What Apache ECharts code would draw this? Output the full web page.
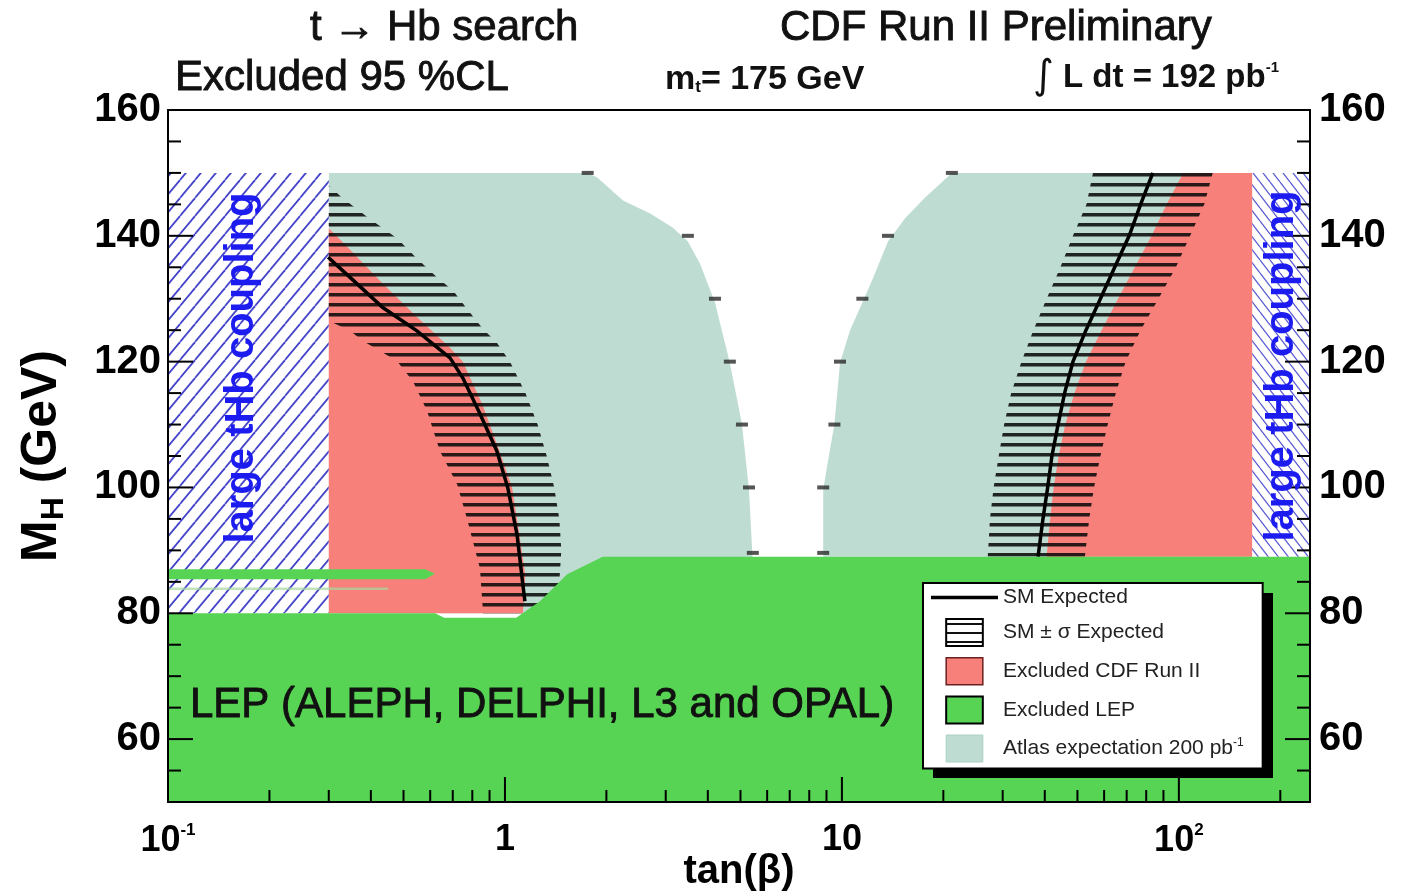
<!DOCTYPE html>
<html><head><meta charset="utf-8">
<script src="https://cdn.jsdelivr.net/npm/echarts@6.0.0/dist/echarts.min.js"></script>
<style>html,body{margin:0;padding:0;background:#fff}#c{width:1405px;height:894px}</style>
</head><body><div id="c"></div>
<script>
// ---------------- DATA (tanβ, M_H [GeV]) ----------------
const xMin = 0.1, xMax = 245, yMin = 50, yMax = 160;
const xTickLabels = {'-1': '{b|10}{s|-1}', '0': '{b|1}', '1': '{b|10}', '2': '{b|10}{s|2}'};
const yTickLabels = [60, 80, 100, 120, 140, 160];
const xMajorTickValues = [0.1, 1, 10, 100];
const xMinorTickValues = [0.2,0.3,0.4,0.5,0.6,0.7,0.8,0.9,2,3,4,5,6,7,8,9,20,30,40,50,60,70,80,90,200];
const yMajorTickValues = [60, 80, 100, 120, 140];
const yMinorTickValues = [55,65,70,75,85,90,95,105,110,115,125,130,135,145,150,155];

// "large tHb coupling" hatched regions
const couplingLeft  = [[0.1,80],[0.1,150],[0.3,150],[0.3,80]];
const couplingRight = [[165,89],[165,150],[245,150],[245,89]];

// Atlas expectation 200 pb^-1
const atlasLeft = [[0.3,80],[0.3,150],[1.76,150],[1.875,149.3],[2.24,145.6],[2.69,143.6],[3.15,141.3],[3.49,139.1],[3.79,135.6],[4.2,129.4],[4.65,119.8],[5.05,110.1],[5.3,99.6],[5.44,88],[1.3,80]];
const atlasRight = [[165,89],[8.8,89],[8.8,99.6],[9.02,103.1],[9.5,110.1],[9.87,119.8],[10.56,124.9],[11.5,129.4],[12.4,133.4],[13.7,139.1],[15.4,142.8],[17.6,146],[21.2,150],[165,150]];
const atlasMarkersLeft  = [[1.76,150],[3.49,140],[4.2,130],[4.65,120],[5.05,110],[5.3,100],[5.44,89.6]];
const atlasMarkersRight = [[21.2,150],[13.7,140],[11.5,130],[9.87,120],[9.5,110],[8.8,100],[8.8,89.6]];

// Excluded CDF Run II
const cdfLeft = [[0.3,80],[0.3,141.2],[0.347,137.8],[0.434,132.4],[0.548,127.1],[0.687,122.2],[0.75,120],[0.86,113],[0.96,106],[1.05,100],[1.1,93],[1.15,86],[1.13,80]];
const cdfRight = [[165,89],[40.5,89],[41.5,95],[42.5,100],[44,105],[46,110],[49,115],[53,120],[59,125],[66,130],[74,135],[83,140],[92,145],[103,150],[165,150]];

// SM ± sigma expected band
const bandLeft = [[0.3,148],[0.328,146.1],[0.392,142.9],[0.478,139.6],[0.548,136.4],[0.628,133.4],[0.701,131.3],[0.771,128.4],[0.861,125.2],[0.946,123],[1.035,120],[1.15,115],[1.25,110],[1.33,105],[1.4,100],[1.45,95],[1.47,90],[1.45,85],[1.4,80],[0.861,80],[0.843,87.1],[0.771,95.1],[0.721,100.5],[0.641,105.8],[0.587,112.2],[0.533,116.9],[0.478,120.1],[0.426,121.7],[0.379,123.3],[0.347,124.9],[0.3,126.5]];
const bandRight = [[55.6,150],[53.2,145],[48.5,140],[44.5,135],[40.5,130],[37.0,125],[34.1,120],[31.8,115],[30.3,110],[29.2,105],[28.2,100],[27.5,95],[27.1,89],[52.6,89],[54.2,95],[56,100],[58.5,105],[61.5,110],[65,115],[69.5,120],[77,125],[87,130],[98,135],[108,140],[119,145],[126,150]];

// SM expected
const smLeft = [[0.2986,136.6],[0.347,133.4],[0.434,128.6],[0.548,124.9],[0.687,120.6],[0.75,117.4],[0.843,111.7],[0.946,105.8],[1.02,99.9],[1.086,92.5],[1.13,84.6],[1.146,81.9]];
const smRight = [[38.2,89],[39.5,95],[40.8,100],[42,105],[43.8,110],[45.8,115],[48.5,120],[53,125],[58.5,130],[64.5,135],[71.2,140],[77,145],[83.7,150]];

// Excluded LEP
const lepMain = [[0.1,50],[0.1,80],[0.62,80],[0.66,79.3],[1.08,79.3],[1.27,81.9],[1.53,86.2],[1.95,89],[245,89],[245,50]];
const lepStrip = [[0.1,85.4],[0.1,87.0],[0.58,87.0],[0.62,86.3],[0.58,85.4]];
const lepFaint = [[0.1,83.9],[0.45,83.9]];

// ---------------- STYLE ----------------
const C_RED = '#f8807a', C_GREEN = '#57d453', C_TEAL = '#bedcd1', C_BLUE = '#1c1cf0';
const SANS = "'Liberation Sans',Arial,Helvetica,sans-serif";

function makePattern(w, h, draw) {
  const c = document.createElement('canvas'); c.width = w; c.height = h;
  const g = c.getContext('2d'); draw(g, w, h);
  return {image: c, repeat: 'repeat'};
}
const hatchLeft = makePattern(15, 18, (g, w, h) => {
  g.fillStyle = '#fff'; g.fillRect(0, 0, w, h);
  g.strokeStyle = '#4545c8'; g.lineWidth = 1.8;
  for (const o of [-w, 0, w]) { g.beginPath(); g.moveTo(o, h); g.lineTo(o + w, 0); g.stroke(); }
});
const hatchRight = makePattern(10, 13, (g, w, h) => {
  g.fillStyle = '#fff'; g.fillRect(0, 0, w, h);
  g.strokeStyle = '#5a5ad2'; g.lineWidth = 1.3;
  for (const o of [-w, 0, w]) { g.beginPath(); g.moveTo(o, 0); g.lineTo(o + w, h); g.stroke(); }
});
const bandPattern = makePattern(8, 10, (g, w, h) => {
  g.fillStyle = 'rgba(10,10,10,0.88)'; g.fillRect(0, 3, w, 3.5);
});
const bandLegendPattern = makePattern(8, 9, (g, w, h) => {
  g.fillStyle = '#fff'; g.fillRect(0, 0, w, h);
  g.fillStyle = '#111'; g.fillRect(0, 4, w, 2);
});

function poly(name, pts, style, z) {
  return {
    type: 'custom', name, z, silent: true, clip: true,
    xAxisIndex: 0, yAxisIndex: 0,
    data: pts, encode: {x: 0, y: 1},
    renderItem(params, api) {
      if (params.dataIndex !== 0) return null;
      return {type: 'polygon', shape: {points: pts.map(p => api.coord(p))}, style: Object.assign({}, style)};
    }
  };
}
function polyline(name, pts, style, z) {
  return {
    type: 'custom', name, z, silent: true, clip: true,
    xAxisIndex: 0, yAxisIndex: 0,
    data: pts, encode: {x: 0, y: 1},
    renderItem(params, api) {
      if (params.dataIndex !== 0) return null;
      return {type: 'polyline', shape: {points: pts.map(p => api.coord(p))}, style: Object.assign({fill: null}, style)};
    }
  };
}

function tickSeries(values, axis, len) {
  const data = values.map(v => axis === 'x' ? [v, yMin] : [xMin, v]);
  return {
    type: 'custom', name: 'ticks', z: 9, silent: true, xAxisIndex: 0, yAxisIndex: 0,
    data, encode: {x: 0, y: 1},
    renderItem(params, api) {
      const s = {stroke: '#000', lineWidth: 2};
      if (axis === 'x') {
        const p = api.coord([api.value(0), yMin]);
        return {type: 'line', shape: {x1: p[0], y1: p[1], x2: p[0], y2: p[1] - len}, style: s};
      }
      const v = api.value(1);
      const a = api.coord([xMin, v]), b = api.coord([xMax, v]);
      return {type: 'group', children: [
        {type: 'line', shape: {x1: a[0], y1: a[1], x2: a[0] + len, y2: a[1]}, style: s},
        {type: 'line', shape: {x1: b[0], y1: b[1], x2: b[0] - len, y2: b[1]}, style: s}
      ]};
    }
  };
}

const chart = echarts.init(document.getElementById('c'), null, {renderer: 'canvas'});
const yLabelStyle = {color: '#000', fontWeight: 'bold', fontSize: 40, fontFamily: SANS};
const titleStroke = {stroke: '#111', lineWidth: 0.9};
const option = {
  animation: false,
  backgroundColor: '#fff',
  grid: {left: 168, top: 110, width: 1142, height: 692, show: true, backgroundColor: '#fff', borderWidth: 0,
         containLabel: false, outerBoundsMode: 'none'},
  xAxis: [{
    type: 'log', logBase: 10, min: xMin, max: xMax, position: 'bottom', z: 10,
    axisLine: {lineStyle: {color: '#000', width: 2}}, axisTick: {show: false}, splitLine: {show: false},
    axisLabel: {
      margin: 20, color: '#000',
      formatter: v => { const e = Math.log10(v), r = Math.round(e); return Math.abs(e - r) < 1e-6 && xTickLabels[r] ? xTickLabels[r] : ''; },
      rich: {b: {fontSize: 36, fontWeight: 'bold', fontFamily: SANS, color: '#000'},
             s: {fontSize: 17, fontWeight: 'bold', fontFamily: SANS, color: '#000', padding: [0, 0, 22, 0]}}
    },
    name: 'tan(β)', nameLocation: 'middle', nameGap: 50, nameMoveOverlap: false,
    nameTextStyle: {color: '#000', fontSize: 40, fontWeight: 'bold', fontFamily: SANS}
  }, {
    type: 'log', logBase: 10, min: xMin, max: xMax, position: 'top', z: 10,
    axisLine: {lineStyle: {color: '#000', width: 2}}, axisTick: {show: false}, splitLine: {show: false}, axisLabel: {show: false}
  }],
  yAxis: [{
    type: 'value', min: yMin, max: yMax, interval: 10, position: 'left', z: 10,
    axisLine: {show: true, lineStyle: {color: '#000', width: 2}}, axisTick: {show: false}, splitLine: {show: false},
    axisLabel: Object.assign({margin: 7, formatter: v => yTickLabels.includes(v) ? String(v) : ''}, yLabelStyle),
    name: 'M{s|H} (GeV)', nameLocation: 'middle', nameRotate: 90, nameGap: 98,
    nameTextStyle: {color: '#000', fontSize: 50, fontWeight: 'bold', fontFamily: SANS,
      rich: {s: {fontSize: 32, fontWeight: 'bold', fontFamily: SANS, color: '#000', padding: [24, 0, 0, 0]}}}
  }, {
    type: 'value', min: yMin, max: yMax, interval: 10, position: 'right', z: 10,
    axisLine: {show: true, lineStyle: {color: '#000', width: 2}}, axisTick: {show: false}, splitLine: {show: false},
    axisLabel: Object.assign({margin: 9, formatter: v => yTickLabels.includes(v) ? String(v) : ''}, yLabelStyle)
  }],
  legend: {
    orient: 'vertical', left: 923, top: 583, z: 40, selectedMode: false,
    backgroundColor: '#fff', borderColor: '#000', borderWidth: 2,
    padding: [4, 19, 6, 8], itemGap: 10, itemWidth: 67, itemHeight: 27, symbolKeepAspect: true,
    textStyle: {fontSize: 21, color: '#222', fontFamily: SANS,
      rich: {u: {fontSize: 12, color: '#222', padding: [0, 0, 12, 0]}}},
    formatter: n => n === 'Atlas expectation 200 pb⁻¹' ? 'Atlas expectation 200 pb{u|-1}' : n,
    data: [
      {name: 'SM Expected', icon: 'path://M0,0H67V3.5H0Z', itemStyle: {color: '#000', borderWidth: 0}},
      {name: 'SM ± σ Expected', icon: 'path://M0,0H38V28H0Z', itemStyle: {color: bandLegendPattern, borderColor: '#000', borderWidth: 2}},
      {name: 'Excluded CDF Run II', icon: 'path://M0,0H38V28H0Z', itemStyle: {color: C_RED, borderColor: '#6a2020', borderWidth: 1.5}},
      {name: 'Excluded LEP', icon: 'path://M0,0H38V28H0Z', itemStyle: {color: C_GREEN, borderColor: '#000', borderWidth: 2}},
      {name: 'Atlas expectation 200 pb⁻¹', icon: 'path://M0,0H38V28H0Z', itemStyle: {color: C_TEAL, borderColor: '#a9cfc6', borderWidth: 1}}
    ]
  },
  graphic: [
    {type: 'rect', z: 39, shape: {x: 933, y: 593, width: 340, height: 185}, style: {fill: '#000'}},
    {type: 'text', x: 310, y: 28, z: 50, style: Object.assign({text: 't → Hb search', font: '42px ' + SANS, fill: '#111', align: 'left', verticalAlign: 'middle'}, titleStroke)},
    {type: 'text', x: 780, y: 28, z: 50, style: Object.assign({text: 'CDF Run II Preliminary', font: '42px ' + SANS, fill: '#111', align: 'left', verticalAlign: 'middle'}, titleStroke)},
    {type: 'text', x: 175, y: 78, z: 50, style: Object.assign({text: 'Excluded 95 %CL', font: '42px ' + SANS, fill: '#111', align: 'left', verticalAlign: 'middle'}, titleStroke)},
    {type: 'text', x: 665, y: 80, z: 50, style: {text: '{n|m}{s|t}{n|= 175 GeV}', fill: '#111', align: 'left', verticalAlign: 'middle',
      rich: {n: {fontSize: 34, fontWeight: 'bold', fontFamily: SANS, fill: '#111'}, s: {fontSize: 17, fontWeight: 'bold', fontFamily: SANS, fill: '#111', padding: [15, 0, 0, 0]}}}},
    {type: 'text', x: 1033, y: 78, z: 50, style: {text: '{i|∫}{n| L dt = 192 pb}{u|-1}', fill: '#111', align: 'left', verticalAlign: 'middle',
      rich: {i: {fontSize: 40, fontFamily: "'DejaVu Sans',sans-serif", fill: '#111'}, n: {fontSize: 33, fontWeight: 'bold', fontFamily: SANS, fill: '#111'}, u: {fontSize: 15, fontWeight: 'bold', fontFamily: SANS, fill: '#111', padding: [0, 0, 20, 0]}}}},
    {type: 'text', x: 190, y: 705, z: 50, style: Object.assign({text: 'LEP (ALEPH, DELPHI, L3 and OPAL)', font: '42px ' + SANS, fill: '#111', align: 'left', verticalAlign: 'middle'}, titleStroke)},
    {type: 'text', x: 242, y: 368, rotation: Math.PI / 2, z: 50, style: {text: 'large tHb coupling', font: 'bold 40px ' + SANS, fill: C_BLUE, align: 'center', verticalAlign: 'middle'}},
    {type: 'text', x: 1282, y: 366, rotation: Math.PI / 2, z: 50, style: {text: 'large tHb coupling', font: 'bold 40px ' + SANS, fill: C_BLUE, align: 'center', verticalAlign: 'middle'}}
  ],
  series: [
    poly('Atlas expectation 200 pb⁻¹', atlasLeft, {fill: C_TEAL}, 2),
    poly('Atlas expectation 200 pb⁻¹', atlasRight, {fill: C_TEAL}, 2),
    poly('large tHb coupling', couplingLeft, {fill: hatchLeft}, 2),
    poly('large tHb coupling', couplingRight, {fill: hatchRight}, 2),
    poly('Excluded CDF Run II', cdfLeft, {fill: C_RED}, 3),
    poly('Excluded CDF Run II', cdfRight, {fill: C_RED}, 3),
    poly('SM ± σ Expected', bandLeft, {fill: bandPattern}, 4),
    poly('SM ± σ Expected', bandRight, {fill: bandPattern}, 4),
    polyline('SM Expected', smLeft, {stroke: '#000', lineWidth: 3.5}, 5),
    polyline('SM Expected', smRight, {stroke: '#000', lineWidth: 3.5}, 5),
    {type: 'scatter', name: 'atlas markers', data: atlasMarkersLeft.concat(atlasMarkersRight), z: 5, silent: true, symbol: 'rect', symbolSize: [12, 4], itemStyle: {color: '#2a2a2a'}},
    poly('Excluded LEP', lepMain, {fill: C_GREEN}, 6),
    poly('Excluded LEP', lepStrip, {fill: C_GREEN}, 6),
    polyline('lep faint', lepFaint, {stroke: '#a8d8a0', lineWidth: 2.5, opacity: 0.7}, 6),
    tickSeries(xMajorTickValues, 'x', 25),
    tickSeries(xMinorTickValues, 'x', 12),
    tickSeries(yMajorTickValues, 'y', 25),
    tickSeries(yMinorTickValues, 'y', 13)
  ]
};
chart.setOption(option);
</script></body></html>
